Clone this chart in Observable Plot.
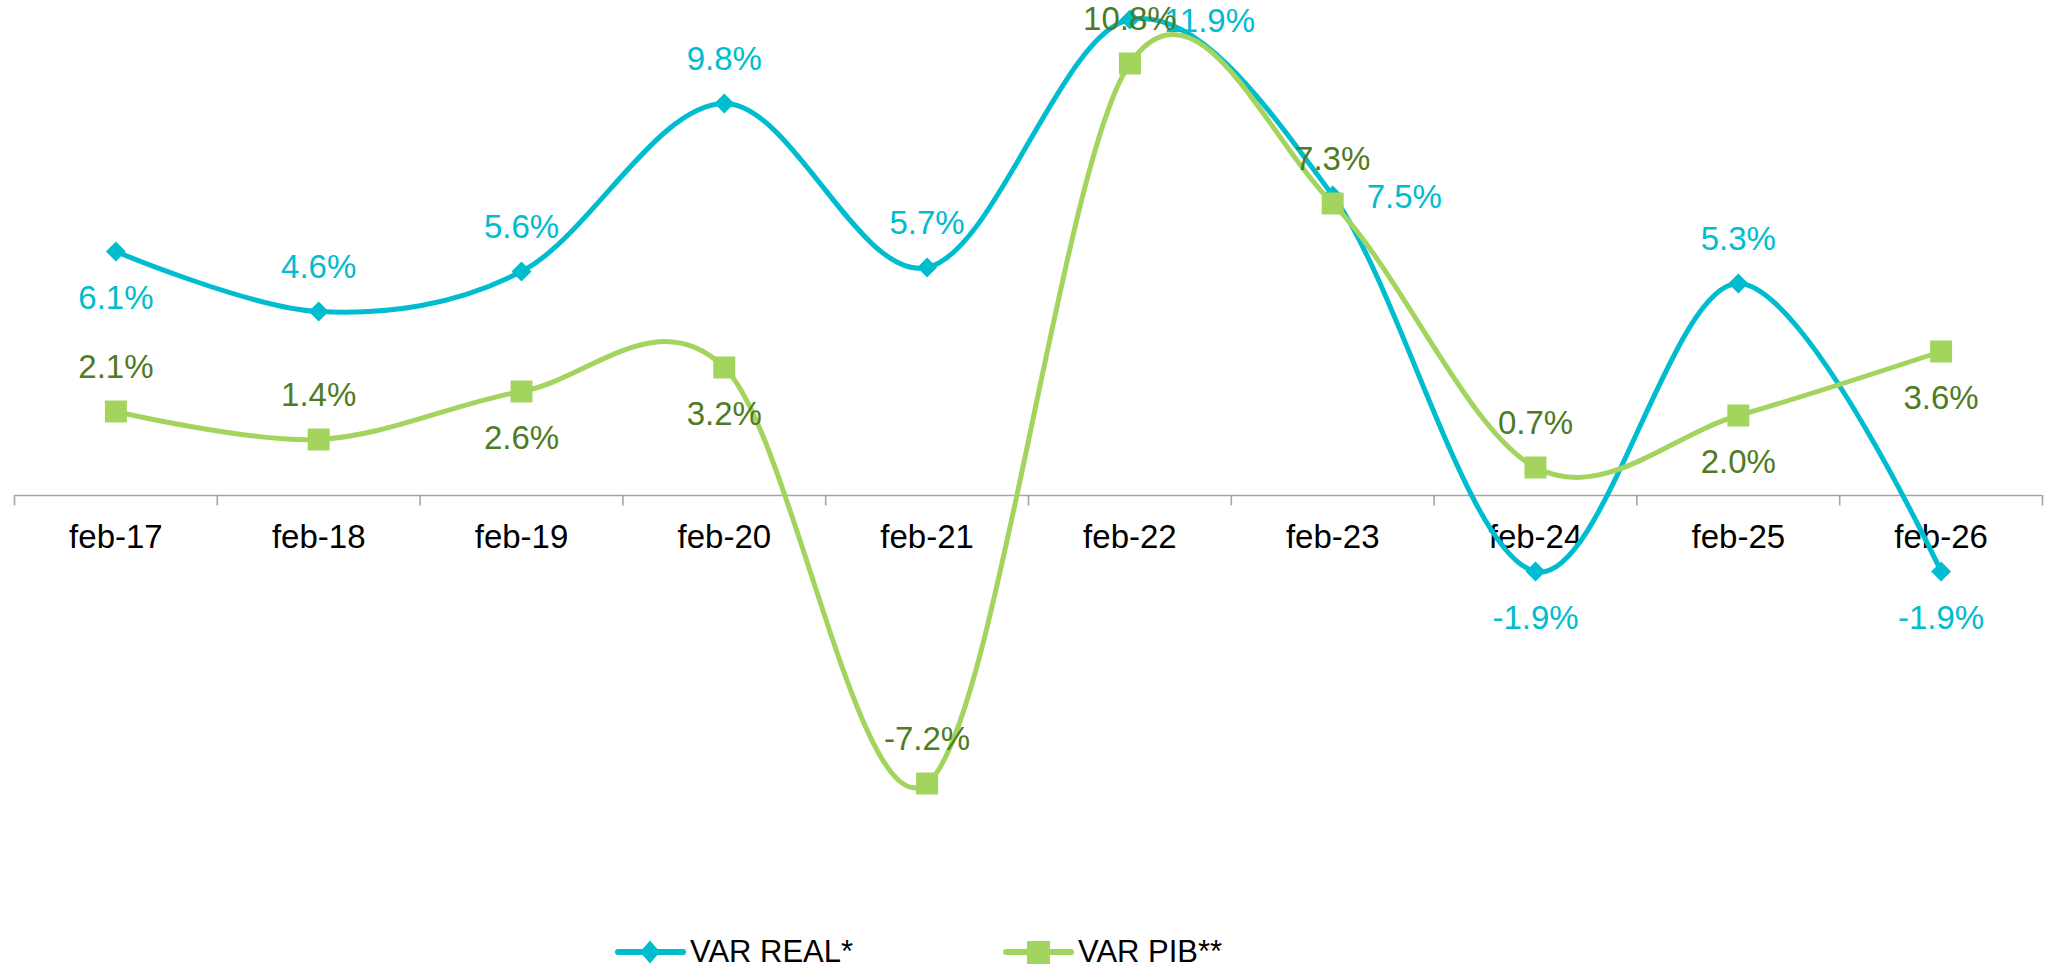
<!DOCTYPE html>
<html>
<head>
<meta charset="utf-8">
<script src="https://cdn.jsdelivr.net/npm/d3@7"></script>
<script src="https://cdn.jsdelivr.net/npm/@observablehq/plot@0.6"></script>
<style>
  html, body { margin: 0; padding: 0; background: #fff; }
  #chart svg { display: block; }
  .legend { position: relative; height: 69px; width: 2055px;
    font-family: "Liberation Sans", Arial, sans-serif; font-size: 31px; color: #000; }
  .legend .item { position: absolute; top: 33px; display: flex; align-items: center; height: 38px; }
  .legend svg { display: block; margin-right: 4px; }
</style>
</head>
<body>
<div id="chart"></div>
<div class="legend">
  <div class="item" style="left:615px"><svg width="71" height="38"><line x1="3" y1="19" x2="68" y2="19" stroke="#00BCCF" stroke-width="6" stroke-linecap="round"/><path d="M35,7.5 L45,19 L35,30.5 L25,19 Z" fill="#00BCCF"/></svg><span>VAR REAL*</span></div>
  <div class="item" style="left:1003px"><svg width="71" height="38"><line x1="3" y1="19" x2="68" y2="19" stroke="#A2D45E" stroke-width="6" stroke-linecap="round"/><rect x="24" y="8" width="23" height="23" fill="#A2D45E"/></svg><span>VAR PIB**</span></div>
</div>
<script>
const months = ["feb-17","feb-18","feb-19","feb-20","feb-21","feb-22","feb-23","feb-24","feb-25","feb-26"];
const varReal = [6.1, 4.6, 5.6, 9.8, 5.7, 11.9, 7.5, -1.9, 5.3, -1.9];
const varPib  = [2.1, 1.4, 2.6, 3.2, -7.2, 10.8, 7.3, 0.7, 2.0, 3.6];
const realLabelPos = ["below","above","above","above","above","right","right","below","above","below"];
const pibLabelPos  = ["above","above","below","below","above","above","above","above","below","below"];

const teal = "#00BCCF";
const green = "#A2D45E";
const darkGreen = "#4F7B23";
const gray = "#A6A6A6";
const labelFont = '"Liberation Sans", Arial, sans-serif';

const realData = months.map((m, i) => ({i, m, v: varReal[i], pos: realLabelPos[i]}));
const pibData = months.map((m, i) => ({i, m, v: varPib[i], pos: pibLabelPos[i]}));
const fmt = v => v.toFixed(1) + "%";

function labels(data, pos, color, opts) {
  return Plot.text(data.filter(d => d.pos === pos), {
    x: "i", y: "v", text: d => fmt(d.v), fill: color,
    fontSize: 33, fontFamily: labelFont, ...opts
  });
}

const chart = Plot.plot({
  width: 2055,
  height: 900,
  marginLeft: 14,
  marginRight: 13,
  marginTop: 0,
  marginBottom: 0,
  x: {type: "linear", domain: [-0.5, 9.5], axis: null},
  y: {type: "linear", domain: [-10, 12], range: [895, 15], axis: null},
  style: {background: "#fff"},
  marks: [
    Plot.ruleY([0], {stroke: gray, strokeWidth: 1.6}),
    Plot.ruleX(d3.range(-0.5, 10, 1), {y1: 0, y2: -0.26, stroke: gray, strokeWidth: 1.6}),
    Plot.text(months, {x: (d, i) => i, y: () => 0, text: d => d, dy: 42, fontSize: 33, fontFamily: labelFont, fill: "#000"}),
    Plot.line(realData, {x: "i", y: "v", curve: "cardinal", stroke: teal, strokeWidth: 5}),
    Plot.dot(realData, {x: "i", y: "v", symbol: "diamond2", r: 9, fill: teal, stroke: "none"}),
    Plot.line(pibData, {x: "i", y: "v", curve: "cardinal", stroke: green, strokeWidth: 5}),
    Plot.dot(pibData, {x: "i", y: "v", symbol: "square", r: 12.4, fill: green, stroke: "none"}),
    labels(realData, "above", teal, {dy: -44}),
    labels(realData, "below", teal, {dy: 47}),
    labels(realData, "right", teal, {dx: 34, dy: 2, textAnchor: "start"}),
    labels(pibData, "above", darkGreen, {dy: -44}),
    labels(pibData, "below", darkGreen, {dy: 47})
  ]
});
document.getElementById("chart").appendChild(chart);
</script>
</body>
</html>
